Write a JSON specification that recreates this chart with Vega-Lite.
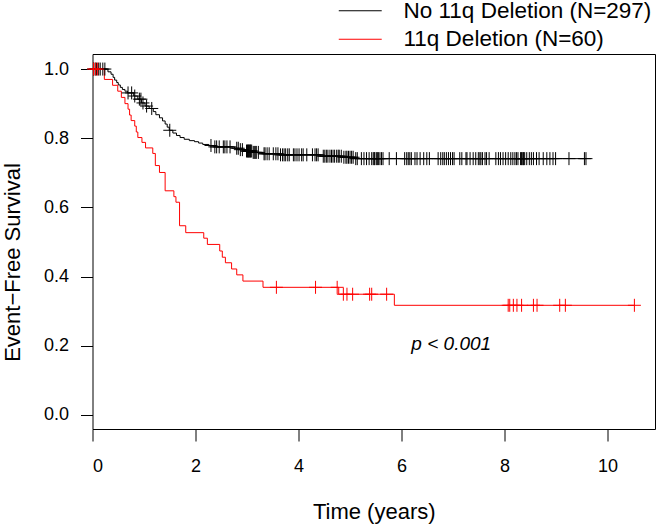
{
  "$schema": "https://vega.github.io/schema/vega-lite/v6.json",
  "width": 562.5,
  "height": 375,
  "autosize": {"type": "none"},
  "padding": {"left": 92.5, "top": 54, "right": 2, "bottom": 95},
  "background": "white",
  "data": {"values": [
    {"g":"No 11q Deletion","t":0,"s":1.0,"c":0},
    {"g":"No 11q Deletion","t":0.02,"s":1.0,"c":1},
    {"g":"No 11q Deletion","t":0.05,"s":1.0,"c":1},
    {"g":"No 11q Deletion","t":0.08,"s":1.0,"c":1},
    {"g":"No 11q Deletion","t":0.12,"s":1.0,"c":1},
    {"g":"No 11q Deletion","t":0.15,"s":1.0,"c":1},
    {"g":"No 11q Deletion","t":0.20,"s":1.0,"c":1},
    {"g":"No 11q Deletion","t":0.24,"s":1.0,"c":1},
    {"g":"No 11q Deletion","t":0.30,"s":0.992,"c":0},
    {"g":"No 11q Deletion","t":0.36,"s":0.985,"c":0},
    {"g":"No 11q Deletion","t":0.40,"s":0.976,"c":0},
    {"g":"No 11q Deletion","t":0.43,"s":0.968,"c":0},
    {"g":"No 11q Deletion","t":0.47,"s":0.961,"c":0},
    {"g":"No 11q Deletion","t":0.50,"s":0.954,"c":0},
    {"g":"No 11q Deletion","t":0.54,"s":0.947,"c":0},
    {"g":"No 11q Deletion","t":0.58,"s":0.941,"c":0},
    {"g":"No 11q Deletion","t":0.63,"s":0.936,"c":0},
    {"g":"No 11q Deletion","t":0.68,"s":0.931,"c":0},
    {"g":"No 11q Deletion","t":0.69,"s":0.931,"c":1},
    {"g":"No 11q Deletion","t":0.76,"s":0.931,"c":1},
    {"g":"No 11q Deletion","t":0.80,"s":0.922,"c":0},
    {"g":"No 11q Deletion","t":0.82,"s":0.922,"c":1},
    {"g":"No 11q Deletion","t":0.88,"s":0.913,"c":0},
    {"g":"No 11q Deletion","t":0.91,"s":0.913,"c":1},
    {"g":"No 11q Deletion","t":0.94,"s":0.913,"c":1},
    {"g":"No 11q Deletion","t":0.95,"s":0.902,"c":0},
    {"g":"No 11q Deletion","t":0.98,"s":0.902,"c":1},
    {"g":"No 11q Deletion","t":1.02,"s":0.893,"c":0},
    {"g":"No 11q Deletion","t":1.05,"s":0.893,"c":1},
    {"g":"No 11q Deletion","t":1.10,"s":0.886,"c":0},
    {"g":"No 11q Deletion","t":1.15,"s":0.886,"c":1},
    {"g":"No 11q Deletion","t":1.18,"s":0.877,"c":0},
    {"g":"No 11q Deletion","t":1.23,"s":0.868,"c":0},
    {"g":"No 11q Deletion","t":1.30,"s":0.859,"c":0},
    {"g":"No 11q Deletion","t":1.36,"s":0.850,"c":0},
    {"g":"No 11q Deletion","t":1.41,"s":0.841,"c":0},
    {"g":"No 11q Deletion","t":1.45,"s":0.832,"c":0},
    {"g":"No 11q Deletion","t":1.49,"s":0.823,"c":0},
    {"g":"No 11q Deletion","t":1.50,"s":0.823,"c":1},
    {"g":"No 11q Deletion","t":1.56,"s":0.815,"c":0},
    {"g":"No 11q Deletion","t":1.63,"s":0.808,"c":0},
    {"g":"No 11q Deletion","t":1.70,"s":0.802,"c":0},
    {"g":"No 11q Deletion","t":1.78,"s":0.797,"c":0},
    {"g":"No 11q Deletion","t":1.88,"s":0.793,"c":0},
    {"g":"No 11q Deletion","t":1.98,"s":0.790,"c":0},
    {"g":"No 11q Deletion","t":2.06,"s":0.786,"c":0},
    {"g":"No 11q Deletion","t":2.14,"s":0.782,"c":0},
    {"g":"No 11q Deletion","t":2.26,"s":0.779,"c":0},
    {"g":"No 11q Deletion","t":2.30,"s":0.779,"c":1},
    {"g":"No 11q Deletion","t":2.36,"s":0.775,"c":0},
    {"g":"No 11q Deletion","t":2.375,"s":0.775,"c":1},
    {"g":"No 11q Deletion","t":2.41,"s":0.775,"c":1},
    {"g":"No 11q Deletion","t":2.46,"s":0.775,"c":1},
    {"g":"No 11q Deletion","t":2.54,"s":0.775,"c":1},
    {"g":"No 11q Deletion","t":2.57,"s":0.775,"c":1},
    {"g":"No 11q Deletion","t":2.61,"s":0.775,"c":1},
    {"g":"No 11q Deletion","t":2.67,"s":0.775,"c":1},
    {"g":"No 11q Deletion","t":2.76,"s":0.771,"c":0},
    {"g":"No 11q Deletion","t":2.80,"s":0.771,"c":1},
    {"g":"No 11q Deletion","t":2.83,"s":0.771,"c":1},
    {"g":"No 11q Deletion","t":2.84,"s":0.767,"c":0},
    {"g":"No 11q Deletion","t":2.87,"s":0.767,"c":1},
    {"g":"No 11q Deletion","t":2.91,"s":0.767,"c":1},
    {"g":"No 11q Deletion","t":2.96,"s":0.763,"c":0},
    {"g":"No 11q Deletion","t":2.99,"s":0.763,"c":1},
    {"g":"No 11q Deletion","t":3.01,"s":0.763,"c":1},
    {"g":"No 11q Deletion","t":3.02,"s":0.763,"c":1},
    {"g":"No 11q Deletion","t":3.03,"s":0.763,"c":1},
    {"g":"No 11q Deletion","t":3.05,"s":0.763,"c":1},
    {"g":"No 11q Deletion","t":3.06,"s":0.763,"c":1},
    {"g":"No 11q Deletion","t":3.07,"s":0.763,"c":1},
    {"g":"No 11q Deletion","t":3.09,"s":0.763,"c":1},
    {"g":"No 11q Deletion","t":3.10,"s":0.759,"c":0},
    {"g":"No 11q Deletion","t":3.12,"s":0.759,"c":1},
    {"g":"No 11q Deletion","t":3.14,"s":0.759,"c":1},
    {"g":"No 11q Deletion","t":3.16,"s":0.759,"c":1},
    {"g":"No 11q Deletion","t":3.18,"s":0.759,"c":1},
    {"g":"No 11q Deletion","t":3.22,"s":0.759,"c":1},
    {"g":"No 11q Deletion","t":3.30,"s":0.755,"c":0},
    {"g":"No 11q Deletion","t":3.33,"s":0.755,"c":1},
    {"g":"No 11q Deletion","t":3.35,"s":0.755,"c":1},
    {"g":"No 11q Deletion","t":3.39,"s":0.755,"c":1},
    {"g":"No 11q Deletion","t":3.43,"s":0.755,"c":1},
    {"g":"No 11q Deletion","t":3.51,"s":0.755,"c":1},
    {"g":"No 11q Deletion","t":3.56,"s":0.755,"c":1},
    {"g":"No 11q Deletion","t":3.60,"s":0.755,"c":1},
    {"g":"No 11q Deletion","t":3.62,"s":0.752,"c":0},
    {"g":"No 11q Deletion","t":3.65,"s":0.752,"c":1},
    {"g":"No 11q Deletion","t":3.69,"s":0.752,"c":1},
    {"g":"No 11q Deletion","t":3.72,"s":0.752,"c":1},
    {"g":"No 11q Deletion","t":3.75,"s":0.752,"c":1},
    {"g":"No 11q Deletion","t":3.79,"s":0.752,"c":1},
    {"g":"No 11q Deletion","t":3.82,"s":0.752,"c":1},
    {"g":"No 11q Deletion","t":3.90,"s":0.752,"c":1},
    {"g":"No 11q Deletion","t":3.93,"s":0.752,"c":1},
    {"g":"No 11q Deletion","t":3.97,"s":0.752,"c":1},
    {"g":"No 11q Deletion","t":4.01,"s":0.752,"c":1},
    {"g":"No 11q Deletion","t":4.06,"s":0.752,"c":1},
    {"g":"No 11q Deletion","t":4.09,"s":0.752,"c":1},
    {"g":"No 11q Deletion","t":4.16,"s":0.752,"c":1},
    {"g":"No 11q Deletion","t":4.27,"s":0.752,"c":1},
    {"g":"No 11q Deletion","t":4.32,"s":0.752,"c":1},
    {"g":"No 11q Deletion","t":4.35,"s":0.752,"c":1},
    {"g":"No 11q Deletion","t":4.38,"s":0.752,"c":1},
    {"g":"No 11q Deletion","t":4.42,"s":0.748,"c":0},
    {"g":"No 11q Deletion","t":4.48,"s":0.748,"c":1},
    {"g":"No 11q Deletion","t":4.51,"s":0.748,"c":1},
    {"g":"No 11q Deletion","t":4.54,"s":0.748,"c":1},
    {"g":"No 11q Deletion","t":4.57,"s":0.748,"c":1},
    {"g":"No 11q Deletion","t":4.61,"s":0.748,"c":1},
    {"g":"No 11q Deletion","t":4.64,"s":0.748,"c":1},
    {"g":"No 11q Deletion","t":4.67,"s":0.748,"c":1},
    {"g":"No 11q Deletion","t":4.70,"s":0.748,"c":1},
    {"g":"No 11q Deletion","t":4.74,"s":0.748,"c":1},
    {"g":"No 11q Deletion","t":4.77,"s":0.748,"c":1},
    {"g":"No 11q Deletion","t":4.79,"s":0.748,"c":1},
    {"g":"No 11q Deletion","t":4.83,"s":0.748,"c":1},
    {"g":"No 11q Deletion","t":4.85,"s":0.745,"c":0},
    {"g":"No 11q Deletion","t":4.88,"s":0.745,"c":1},
    {"g":"No 11q Deletion","t":4.92,"s":0.745,"c":1},
    {"g":"No 11q Deletion","t":4.94,"s":0.745,"c":1},
    {"g":"No 11q Deletion","t":4.97,"s":0.745,"c":1},
    {"g":"No 11q Deletion","t":5.00,"s":0.745,"c":1},
    {"g":"No 11q Deletion","t":5.03,"s":0.745,"c":1},
    {"g":"No 11q Deletion","t":5.06,"s":0.745,"c":1},
    {"g":"No 11q Deletion","t":5.09,"s":0.741,"c":0},
    {"g":"No 11q Deletion","t":5.11,"s":0.741,"c":1},
    {"g":"No 11q Deletion","t":5.14,"s":0.741,"c":1},
    {"g":"No 11q Deletion","t":5.22,"s":0.741,"c":1},
    {"g":"No 11q Deletion","t":5.27,"s":0.741,"c":1},
    {"g":"No 11q Deletion","t":5.32,"s":0.741,"c":1},
    {"g":"No 11q Deletion","t":5.37,"s":0.741,"c":1},
    {"g":"No 11q Deletion","t":5.42,"s":0.741,"c":1},
    {"g":"No 11q Deletion","t":5.45,"s":0.741,"c":1},
    {"g":"No 11q Deletion","t":5.47,"s":0.741,"c":1},
    {"g":"No 11q Deletion","t":5.48,"s":0.741,"c":1},
    {"g":"No 11q Deletion","t":5.51,"s":0.741,"c":1},
    {"g":"No 11q Deletion","t":5.53,"s":0.741,"c":1},
    {"g":"No 11q Deletion","t":5.55,"s":0.741,"c":1},
    {"g":"No 11q Deletion","t":5.58,"s":0.741,"c":1},
    {"g":"No 11q Deletion","t":5.61,"s":0.741,"c":1},
    {"g":"No 11q Deletion","t":5.64,"s":0.741,"c":1},
    {"g":"No 11q Deletion","t":5.76,"s":0.741,"c":1},
    {"g":"No 11q Deletion","t":5.90,"s":0.741,"c":1},
    {"g":"No 11q Deletion","t":6.06,"s":0.741,"c":1},
    {"g":"No 11q Deletion","t":6.10,"s":0.741,"c":1},
    {"g":"No 11q Deletion","t":6.13,"s":0.741,"c":1},
    {"g":"No 11q Deletion","t":6.16,"s":0.741,"c":1},
    {"g":"No 11q Deletion","t":6.19,"s":0.741,"c":1},
    {"g":"No 11q Deletion","t":6.26,"s":0.741,"c":1},
    {"g":"No 11q Deletion","t":6.30,"s":0.741,"c":1},
    {"g":"No 11q Deletion","t":6.36,"s":0.741,"c":1},
    {"g":"No 11q Deletion","t":6.43,"s":0.741,"c":1},
    {"g":"No 11q Deletion","t":6.49,"s":0.741,"c":1},
    {"g":"No 11q Deletion","t":6.54,"s":0.741,"c":1},
    {"g":"No 11q Deletion","t":6.71,"s":0.741,"c":1},
    {"g":"No 11q Deletion","t":6.76,"s":0.741,"c":1},
    {"g":"No 11q Deletion","t":6.80,"s":0.741,"c":1},
    {"g":"No 11q Deletion","t":6.83,"s":0.741,"c":1},
    {"g":"No 11q Deletion","t":6.87,"s":0.741,"c":1},
    {"g":"No 11q Deletion","t":6.91,"s":0.741,"c":1},
    {"g":"No 11q Deletion","t":6.95,"s":0.741,"c":1},
    {"g":"No 11q Deletion","t":6.99,"s":0.741,"c":1},
    {"g":"No 11q Deletion","t":7.02,"s":0.741,"c":1},
    {"g":"No 11q Deletion","t":7.13,"s":0.741,"c":1},
    {"g":"No 11q Deletion","t":7.17,"s":0.741,"c":1},
    {"g":"No 11q Deletion","t":7.25,"s":0.741,"c":1},
    {"g":"No 11q Deletion","t":7.27,"s":0.741,"c":1},
    {"g":"No 11q Deletion","t":7.33,"s":0.741,"c":1},
    {"g":"No 11q Deletion","t":7.39,"s":0.741,"c":1},
    {"g":"No 11q Deletion","t":7.44,"s":0.741,"c":1},
    {"g":"No 11q Deletion","t":7.49,"s":0.741,"c":1},
    {"g":"No 11q Deletion","t":7.52,"s":0.741,"c":1},
    {"g":"No 11q Deletion","t":7.54,"s":0.741,"c":1},
    {"g":"No 11q Deletion","t":7.57,"s":0.741,"c":1},
    {"g":"No 11q Deletion","t":7.62,"s":0.741,"c":1},
    {"g":"No 11q Deletion","t":7.65,"s":0.741,"c":1},
    {"g":"No 11q Deletion","t":7.70,"s":0.741,"c":1},
    {"g":"No 11q Deletion","t":7.83,"s":0.741,"c":1},
    {"g":"No 11q Deletion","t":7.88,"s":0.741,"c":1},
    {"g":"No 11q Deletion","t":7.92,"s":0.741,"c":1},
    {"g":"No 11q Deletion","t":7.97,"s":0.741,"c":1},
    {"g":"No 11q Deletion","t":8.02,"s":0.741,"c":1},
    {"g":"No 11q Deletion","t":8.07,"s":0.741,"c":1},
    {"g":"No 11q Deletion","t":8.12,"s":0.741,"c":1},
    {"g":"No 11q Deletion","t":8.16,"s":0.741,"c":1},
    {"g":"No 11q Deletion","t":8.20,"s":0.741,"c":1},
    {"g":"No 11q Deletion","t":8.23,"s":0.741,"c":1},
    {"g":"No 11q Deletion","t":8.26,"s":0.741,"c":1},
    {"g":"No 11q Deletion","t":8.31,"s":0.741,"c":1},
    {"g":"No 11q Deletion","t":8.33,"s":0.741,"c":1},
    {"g":"No 11q Deletion","t":8.34,"s":0.741,"c":1},
    {"g":"No 11q Deletion","t":8.36,"s":0.741,"c":1},
    {"g":"No 11q Deletion","t":8.37,"s":0.741,"c":1},
    {"g":"No 11q Deletion","t":8.39,"s":0.741,"c":1},
    {"g":"No 11q Deletion","t":8.43,"s":0.741,"c":1},
    {"g":"No 11q Deletion","t":8.48,"s":0.741,"c":1},
    {"g":"No 11q Deletion","t":8.52,"s":0.741,"c":1},
    {"g":"No 11q Deletion","t":8.56,"s":0.741,"c":1},
    {"g":"No 11q Deletion","t":8.62,"s":0.741,"c":1},
    {"g":"No 11q Deletion","t":8.67,"s":0.741,"c":1},
    {"g":"No 11q Deletion","t":8.75,"s":0.741,"c":1},
    {"g":"No 11q Deletion","t":8.82,"s":0.741,"c":1},
    {"g":"No 11q Deletion","t":8.88,"s":0.741,"c":1},
    {"g":"No 11q Deletion","t":8.94,"s":0.741,"c":1},
    {"g":"No 11q Deletion","t":8.99,"s":0.741,"c":1},
    {"g":"No 11q Deletion","t":9.25,"s":0.741,"c":1},
    {"g":"No 11q Deletion","t":9.55,"s":0.741,"c":1},
    {"g":"No 11q Deletion","t":9.58,"s":0.741,"c":1},
    {"g":"11q Deletion","t":0,"s":1.0,"c":0},
    {"g":"11q Deletion","t":0.02,"s":1.0,"c":1},
    {"g":"11q Deletion","t":0.06,"s":1.0,"c":1},
    {"g":"11q Deletion","t":0.10,"s":1.0,"c":1},
    {"g":"11q Deletion","t":0.23,"s":0.970,"c":0},
    {"g":"11q Deletion","t":0.39,"s":0.953,"c":0},
    {"g":"11q Deletion","t":0.49,"s":0.936,"c":0},
    {"g":"11q Deletion","t":0.56,"s":0.918,"c":0},
    {"g":"11q Deletion","t":0.63,"s":0.900,"c":0},
    {"g":"11q Deletion","t":0.69,"s":0.884,"c":0},
    {"g":"11q Deletion","t":0.72,"s":0.867,"c":0},
    {"g":"11q Deletion","t":0.75,"s":0.851,"c":0},
    {"g":"11q Deletion","t":0.82,"s":0.835,"c":0},
    {"g":"11q Deletion","t":0.85,"s":0.818,"c":0},
    {"g":"11q Deletion","t":0.88,"s":0.802,"c":0},
    {"g":"11q Deletion","t":0.96,"s":0.788,"c":0},
    {"g":"11q Deletion","t":1.03,"s":0.772,"c":0},
    {"g":"11q Deletion","t":1.17,"s":0.756,"c":0},
    {"g":"11q Deletion","t":1.22,"s":0.721,"c":0},
    {"g":"11q Deletion","t":1.30,"s":0.701,"c":0},
    {"g":"11q Deletion","t":1.41,"s":0.648,"c":0},
    {"g":"11q Deletion","t":1.58,"s":0.631,"c":0},
    {"g":"11q Deletion","t":1.62,"s":0.615,"c":0},
    {"g":"11q Deletion","t":1.69,"s":0.547,"c":0},
    {"g":"11q Deletion","t":1.81,"s":0.527,"c":0},
    {"g":"11q Deletion","t":2.16,"s":0.511,"c":0},
    {"g":"11q Deletion","t":2.23,"s":0.493,"c":0},
    {"g":"11q Deletion","t":2.47,"s":0.474,"c":0},
    {"g":"11q Deletion","t":2.52,"s":0.456,"c":0},
    {"g":"11q Deletion","t":2.58,"s":0.440,"c":0},
    {"g":"11q Deletion","t":2.70,"s":0.422,"c":0},
    {"g":"11q Deletion","t":2.80,"s":0.405,"c":0},
    {"g":"11q Deletion","t":2.92,"s":0.387,"c":0},
    {"g":"11q Deletion","t":3.31,"s":0.369,"c":0},
    {"g":"11q Deletion","t":3.57,"s":0.369,"c":1},
    {"g":"11q Deletion","t":4.33,"s":0.369,"c":1},
    {"g":"11q Deletion","t":4.75,"s":0.369,"c":1},
    {"g":"11q Deletion","t":4.78,"s":0.349,"c":0},
    {"g":"11q Deletion","t":4.87,"s":0.349,"c":1},
    {"g":"11q Deletion","t":4.94,"s":0.349,"c":1},
    {"g":"11q Deletion","t":5.05,"s":0.349,"c":1},
    {"g":"11q Deletion","t":5.38,"s":0.349,"c":1},
    {"g":"11q Deletion","t":5.42,"s":0.349,"c":1},
    {"g":"11q Deletion","t":5.71,"s":0.349,"c":1},
    {"g":"11q Deletion","t":5.86,"s":0.317,"c":0},
    {"g":"11q Deletion","t":8.07,"s":0.317,"c":1},
    {"g":"11q Deletion","t":8.10,"s":0.317,"c":1},
    {"g":"11q Deletion","t":8.17,"s":0.317,"c":1},
    {"g":"11q Deletion","t":8.24,"s":0.317,"c":1},
    {"g":"11q Deletion","t":8.33,"s":0.317,"c":1},
    {"g":"11q Deletion","t":8.56,"s":0.317,"c":1},
    {"g":"11q Deletion","t":8.63,"s":0.317,"c":1},
    {"g":"11q Deletion","t":9.07,"s":0.317,"c":1},
    {"g":"11q Deletion","t":9.18,"s":0.317,"c":1},
    {"g":"11q Deletion","t":10.52,"s":0.317,"c":1}
  ]},
  "layer": [
    {
      "mark": {"type": "line", "interpolate": "step-after", "strokeWidth": 1},
      "encoding": {
        "x": {"field": "t", "type": "quantitative",
          "scale": {"domain": [0, 10.92], "nice": false, "zero": false},
          "axis": {"values": [0, 2, 4, 6, 8, 10], "title": "Time (years)", "tickSize": 12, "labelPadding": 16, "labelFontSize": 18, "titleFontSize": 22, "titleY": 89, "titleBaseline": "alphabetic"}},
        "y": {"field": "s", "type": "quantitative",
          "scale": {"domain": [-0.0406, 1.0435], "nice": false, "zero": false},
          "axis": {"values": [0, 0.2, 0.4, 0.6, 0.8, 1.0], "format": ".1f", "title": "Event\u2212Free Survival", "tickSize": 12, "labelPadding": 12, "labelFontSize": 18, "titleFontSize": 22, "titleAngle": -90, "titleX": -73.5, "titleY": 208, "titleAlign": "center", "titleBaseline": "alphabetic"}},
        "color": {"field": "g", "type": "nominal",
          "scale": {"domain": ["No 11q Deletion", "11q Deletion"], "range": ["#000000", "#ff0000"]},
          "legend": {"orient": "none", "legendX": 256.5, "legendY": -54.5, "title": null,
            "labelExpr": "datum.value == 'No 11q Deletion' ? 'No 11q Deletion (N=297)' : '11q Deletion (N=60)'",
            "symbolType": "M-3,0H3", "symbolSize": 205, "symbolStrokeWidth": 1,
            "labelFontSize": 22.5, "labelOffset": 32, "rowPadding": 5.5, "padding": 0, "labelLimit": 400}}
      }
    },
    {
      "transform": [{"filter": "datum.c == 1"}],
      "mark": {"type": "point", "shape": "M0,-1V1M-1,0H1", "filled": false, "strokeWidth": 1, "size": 169, "opacity": 1},
      "encoding": {
        "x": {"field": "t", "type": "quantitative"},
        "y": {"field": "s", "type": "quantitative"},
        "stroke": {"field": "g", "type": "nominal",
          "scale": {"domain": ["No 11q Deletion", "11q Deletion"], "range": ["#000000", "#ff0000"]},
          "legend": null}
      }
    },
    {
      "data": {"values": [{"label": "p < 0.001"}]},
      "mark": {"type": "text", "align": "left", "baseline": "alphabetic", "fontSize": 19, "fontStyle": "italic", "font": "Liberation Sans", "color": "black"},
      "encoding": {
        "x": {"datum": 6.19, "type": "quantitative"},
        "y": {"datum": 0.188, "type": "quantitative"},
        "text": {"field": "label"}
      }
    }
  ],
  "config": {
    "font": "Liberation Sans",
    "view": {"stroke": "black", "strokeWidth": 1},
    "axis": {"grid": false, "domain": false, "tickColor": "black", "tickWidth": 1, "labelColor": "black", "titleColor": "black", "labelFont": "Liberation Sans", "titleFont": "Liberation Sans", "titleFontWeight": "normal"},
    "legend": {"labelFont": "Liberation Sans", "labelColor": "black"}
  }
}
